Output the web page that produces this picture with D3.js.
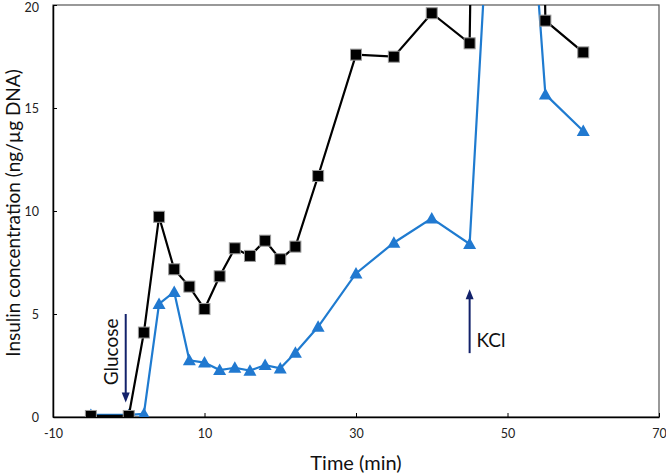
<!DOCTYPE html>
<html>
<head>
<meta charset="utf-8">
<script src="https://cdn.jsdelivr.net/npm/d3@7"></script>
<style>
  body { margin: 0; background: #fff; }
  svg text { font-family: Lato, "Open Sans", sans-serif; }
</style>
</head>
<body>
<svg id="chart" width="666" height="473"></svg>
<script>
// time points (min)
var times = [-5, 0, 2, 4, 6, 8, 10, 12, 14, 16, 18, 20, 22, 25, 30, 35, 40, 45, 50, 55, 60];
// black squares
var blackValues = [0.05, 0.05, 4.1, 9.72, 7.17, 6.33, 5.24, 6.83, 8.19, 7.82, 8.56, 7.66, 8.27, 11.7, 17.59, 17.49, 19.6, 18.14, 140, 19.24, 17.7];
// blue triangles
var blueValues = [0.1, 0.1, 0.15, 5.49, 6.07, 2.75, 2.64, 2.28, 2.39, 2.25, 2.52, 2.36, 3.12, 4.38, 6.97, 8.46, 9.64, 8.4, 41, 15.66, 13.88];
var xTicks = [-10, 10, 30, 50, 70];
var yTicks = [0, 5, 10, 15, 20];

var svg = d3.select("#chart"),
    margin = {top: 5, right: 7, bottom: 56, left: 53},
    width = +svg.attr("width") - margin.left - margin.right,
    height = +svg.attr("height") - margin.top - margin.bottom;

var x = d3.scaleLinear().domain([-10, 70]).range([0, width]),
    y = d3.scaleLinear().domain([0, 20]).range([height, 0]);

var g = svg.append("g")
    .attr("transform", "translate(" + margin.left + "," + margin.top + ")");

g.append("clipPath").attr("id", "clip")
  .append("rect").attr("width", width).attr("height", height);

// frame (top / right)
g.append("rect")
    .attr("width", width).attr("height", height)
    .attr("fill", "none").attr("stroke", "#555").attr("stroke-width", 1.2);

var fmt = function(d) { return String(d); };
var xAxis = g.append("g")
    .attr("transform", "translate(0," + height + ")")
    .call(d3.axisBottom(x).tickValues(xTicks).tickFormat(fmt).tickSizeInner(-4).tickSizeOuter(0).tickPadding(12));
var yAxis = g.append("g")
    .call(d3.axisLeft(y).tickValues(yTicks).tickFormat(fmt).tickSizeInner(-4).tickSizeOuter(0).tickPadding(14));

[xAxis, yAxis].forEach(function(a) {
  a.select(".domain").attr("stroke", "#000").attr("stroke-width", 1.5);
  a.selectAll(".tick line").attr("stroke", "#000");
  a.selectAll(".tick text").attr("fill", "#222").style("font-size", "12.5px");
});
// keep the top label inside the picture
yAxis.selectAll(".tick text").filter(function(d) { return d === 20; }).attr("dy", "0.55em");

var blackData = times.map(function(t, i) { return {t: t, v: blackValues[i]}; });
var blueData = times.map(function(t, i) { return {t: t, v: blueValues[i]}; });

var line = d3.line()
    .x(function(d) { return x(d.t); })
    .y(function(d) { return y(d.v); });

var plot = g.append("g").attr("clip-path", "url(#clip)");

// blue series
plot.append("path").datum(blueData)
    .attr("fill", "none").attr("stroke", "#1f7bd0").attr("stroke-width", 2.2)
    .attr("d", line);
plot.selectAll(".tri").data(blueData.filter(function(d) { return d.v <= 20; }))
  .enter().append("path")
    .attr("class", "tri")
    .attr("transform", function(d) { return "translate(" + x(d.t) + "," + y(d.v) + ")"; })
    .attr("d", "M0,-6.5L6.5,5L-6.5,5Z")
    .attr("fill", "#2179d0");

// black series
plot.append("path").datum(blackData)
    .attr("fill", "none").attr("stroke", "#000").attr("stroke-width", 2.2)
    .attr("d", line);
plot.selectAll(".sq").data(blackData.filter(function(d) { return d.v <= 20; }))
  .enter().append("rect")
    .attr("class", "sq")
    .attr("x", function(d) { return x(d.t) - 5.5; })
    .attr("y", function(d) { return y(d.v) - 5.5; })
    .attr("width", 11).attr("height", 11)
    .attr("fill", "#000").attr("stroke", "#999").attr("stroke-width", 1);

// annotation arrows
var navy = "#13226b";
function arrow(t, v0, v1) {
  var x0 = x(t), y0 = y(v0), y1 = y(v1), dir = y1 > y0 ? 1 : -1;
  g.append("line")
      .attr("x1", x0).attr("x2", x0)
      .attr("y1", y0).attr("y2", y1 - dir * 8)
      .attr("stroke", navy).attr("stroke-width", 2);
  g.append("path")
      .attr("d", "M" + x0 + "," + y1 + "L" + (x0 - 4) + "," + (y1 - dir * 10) + "L" + (x0 + 4) + "," + (y1 - dir * 10) + "Z")
      .attr("fill", navy);
}
arrow(-0.4, 5.0, 0.7);
arrow(45, 3.1, 6.2);

g.append("text")
    .attr("transform", "translate(" + (x(-2.3) + 7) + "," + y(3.16) + ") rotate(-90)")
    .attr("text-anchor", "middle")
    .style("font-size", "19px").attr("fill", "#111")
    .text("Glucose");

g.append("text")
    .attr("x", x(45.9)).attr("y", y(3.16) - 5)
    .style("font-size", "19px").attr("fill", "#111")
    .text("KCl");

// axis titles
svg.append("text")
    .attr("x", margin.left + x(30)).attr("y", 470)
    .attr("text-anchor", "middle")
    .style("font-size", "20px").attr("fill", "#111")
    .text("Time (min)");

svg.append("text")
    .attr("transform", "translate(13," + (margin.top + y(10) + 2) + ") rotate(-90)")
    .attr("text-anchor", "middle")
    .attr("dy", "0.35em")
    .style("font-size", "19px").attr("fill", "#111")
    .text("Insulin concentration (ng/µg DNA)");
</script>
</body>
</html>
